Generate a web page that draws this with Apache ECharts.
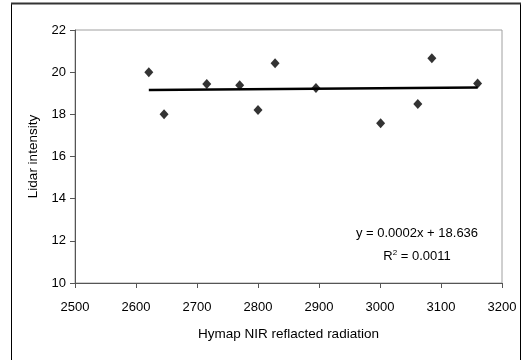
<!DOCTYPE html>
<html>
<head>
<meta charset="utf-8">
<script src="https://cdn.jsdelivr.net/npm/echarts@6/dist/echarts.min.js"></script>
<style>
  html, body { margin: 0; padding: 0; background: #fff; }
  #chart { width: 527px; height: 360px; }
</style>
</head>
<body>
<div id="chart"></div>
<script>
// Hymap NIR reflected radiation vs lidar intensity
var nirValues   = [2621, 2646, 2716, 2770, 2800, 2828, 2895, 3001, 3062, 3085, 3160];
var lidarValues = [20.0, 18.0, 19.44, 19.38, 18.21, 20.42, 19.25, 17.58, 18.49, 20.66, 19.46];

// Linear trendline end points (y = 0.0002x + 18.636)
var trendX = [2621, 3160];
var trendY = [19.16, 19.268];

var xTicks = { min: 2500, max: 3200, step: 100 };
var yTicks = { min: 10, max: 22, step: 2 };

var equationText = 'y = 0.0002x + 18.636';
var rSquaredText = '0.0011';

var FONT = '"Liberation Sans", Arial, sans-serif';

var chart = echarts.init(document.getElementById('chart'), null, { renderer: 'canvas' });

var points = nirValues.map(function (x, i) { return [x, lidarValues[i]]; });
var trend = trendX.map(function (x, i) { return [x, trendY[i]]; });

chart.setOption({
  animation: false,
  backgroundColor: '#ffffff',
  textStyle: { fontFamily: FONT },
  grid: {
    left: 75, right: 25, top: 30, bottom: 77,
    show: true,
    borderColor: '#a0a0a0',
    borderWidth: 1,
    backgroundColor: '#ffffff'
  },
  xAxis: {
    type: 'value',
    min: xTicks.min, max: xTicks.max, interval: xTicks.step,
    name: 'Hymap NIR reflacted radiation',
    nameLocation: 'middle',
    nameGap: 44,
    nameTextStyle: { color: '#000', fontSize: 13.5, fontFamily: FONT },
    axisLine: { show: true, onZero: false, lineStyle: { color: '#555555', width: 1 } },
    axisTick: { show: true, inside: false, length: 5, lineStyle: { color: '#555555' } },
    axisLabel: {
      color: '#000', fontSize: 13, fontFamily: FONT, margin: 18,
      formatter: function (v) { return String(v); }
    },
    splitLine: { show: false }
  },
  yAxis: {
    type: 'value',
    min: yTicks.min, max: yTicks.max, interval: yTicks.step,
    name: 'Lidar intensity',
    nameLocation: 'middle',
    nameGap: 31,
    nameRotate: 90,
    nameTextStyle: { color: '#000', fontSize: 13.5, fontFamily: FONT },
    axisLine: { show: true, onZero: false, lineStyle: { color: '#555555', width: 1 } },
    axisTick: { show: true, inside: false, length: 5, lineStyle: { color: '#555555' } },
    axisLabel: { color: '#000', fontSize: 13, fontFamily: FONT, margin: 9 },
    splitLine: { show: false }
  },
  series: [
    {
      name: 'Trend',
      type: 'line',
      data: trend,
      showSymbol: false,
      symbol: 'none',
      lineStyle: { color: '#000000', width: 2.5 },
      z: 2
    },
    {
      name: 'Lidar intensity',
      type: 'scatter',
      data: points,
      symbol: 'diamond',
      symbolSize: [9, 10],
      itemStyle: { color: '#000000' },
      z: 3
    }
  ],
  graphic: [
    {
      type: 'rect',
      shape: { x: 11.5, y: 3.5, width: 509, height: 370 },
      style: { fill: null, stroke: '#000000', lineWidth: 1 },
      silent: true,
      z: 10
    },
    {
      type: 'line',
      shape: { x1: 11, y1: 3.5, x2: 521, y2: 3.5 },
      style: { stroke: '#333333', lineWidth: 2 },
      silent: true,
      z: 10
    },
    {
      type: 'text',
      x: 417, y: 233,
      style: {
        text: equationText,
        font: '13px ' + FONT,
        fill: '#000',
        align: 'center',
        verticalAlign: 'middle'
      }
    },
    {
      type: 'text',
      x: 417, y: 256,
      style: {
        text: '{b|R}{s|2}{b| = ' + rSquaredText + '}',
        fill: '#000',
        align: 'center',
        verticalAlign: 'middle',
        rich: {
          b: { fontSize: 13, fontFamily: FONT, fill: '#000', verticalAlign: 'bottom' },
          s: { fontSize: 8, fontFamily: FONT, fill: '#000', verticalAlign: 'top', padding: [0, 0, 6, 0] }
        }
      }
    }
  ]
});
</script>
</body>
</html>
